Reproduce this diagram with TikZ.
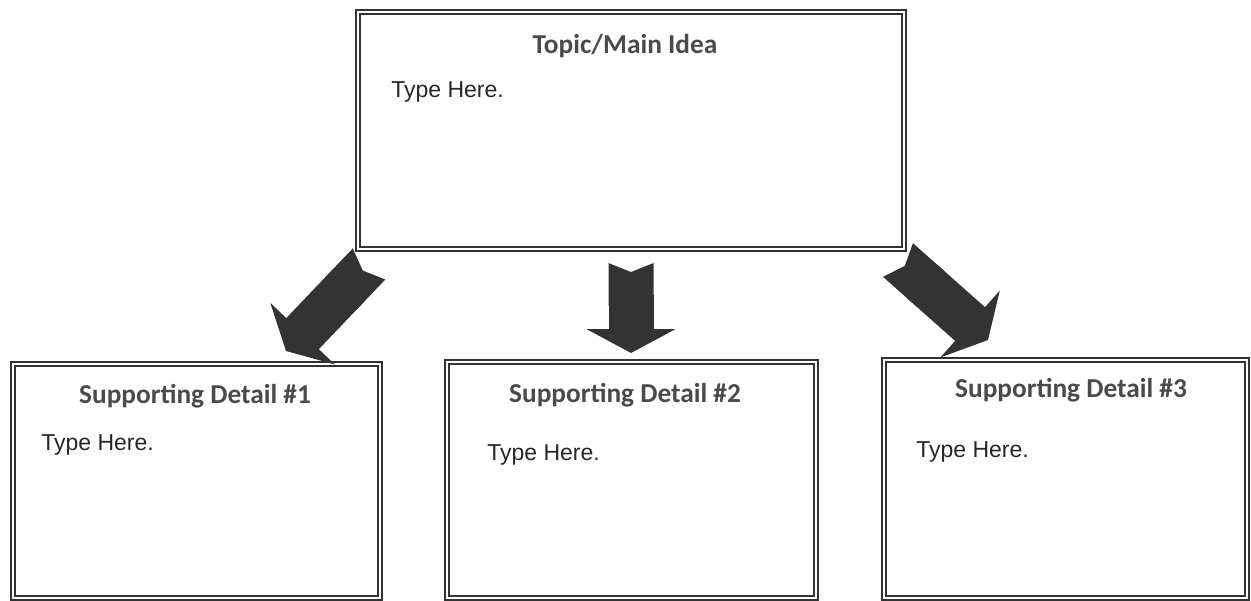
\documentclass[tikz,border=0pt]{standalone}
\usepackage{fontspec}
\setmainfont{Liberation Sans}
\newfontfamily\titlefont{Carlito}
\usetikzlibrary{arrows.meta,fit}
\definecolor{frame}{HTML}{333333}
\definecolor{arrowgrey}{HTML}{333333}
\definecolor{titlegrey}{HTML}{4A4A4A}
\definecolor{bodytext}{HTML}{262626}
\tikzset{
  box/.style={draw=frame, double=white, double distance=0.8pt, line width=1.3pt, inner sep=0pt, rectangle},
  boxtitle/.style={anchor=base, inner sep=0pt, text=titlegrey, font=\titlefont\bfseries\fontsize{16.4pt}{19pt}\selectfont},
  typetext/.style={anchor=base west, inner sep=0pt, text=bodytext, font=\fontsize{13.8pt}{16pt}\selectfont},
  blockarrow/.style={draw=arrowgrey, line width=27pt,
    {Triangle Cap[reversed, length=5.4pt]}-{Triangle[length=14.4pt, width=53pt]}}
}
\begin{document}
\begin{tikzpicture}[x=0.6pt, y=-0.6pt]
\useasboundingbox (0,0) rectangle (1251,600);
% boxes
\node[box, fit={(358,12) (904,249)}] (main) {};
\node[box, fit={(13,364) (380,598)}] (d1) {};
\node[box, fit={(447,362) (816,598)}] (d2) {};
\node[box, fit={(884,360) (1247,598)}] (d3) {};
% texts
\node[boxtitle] (tmain) at (625,53) {Topic/Main Idea};
\node[typetext] (xmain) at (391,97) {Type Here.};
\node[boxtitle] (t1) at (195,403) {Supporting Detail \#1};
\node[typetext] (x1) at (41,450) {Type Here.};
\node[boxtitle] (t2) at (625,402) {Supporting Detail \#2};
\node[typetext] (x2) at (487,460) {Type Here.};
\node[boxtitle] (t3) at (1071,397) {Supporting Detail \#3};
\node[typetext] (x3) at (916,457) {Type Here.};
% arrow ends
\coordinate (a1s) at (369,264);
\coordinate (a1e) at (286,351);
\coordinate (a2s) at (631,263);
\coordinate (a2e) at (631,353);
\coordinate (a3s) at (898,260);
\coordinate (a3e) at (988,340);
\draw[blockarrow] (a1s) -- (a1e);
\draw[blockarrow] (a2s) -- (a2e);
\draw[blockarrow] (a3s) -- (a3e);
\end{tikzpicture}
\end{document}
